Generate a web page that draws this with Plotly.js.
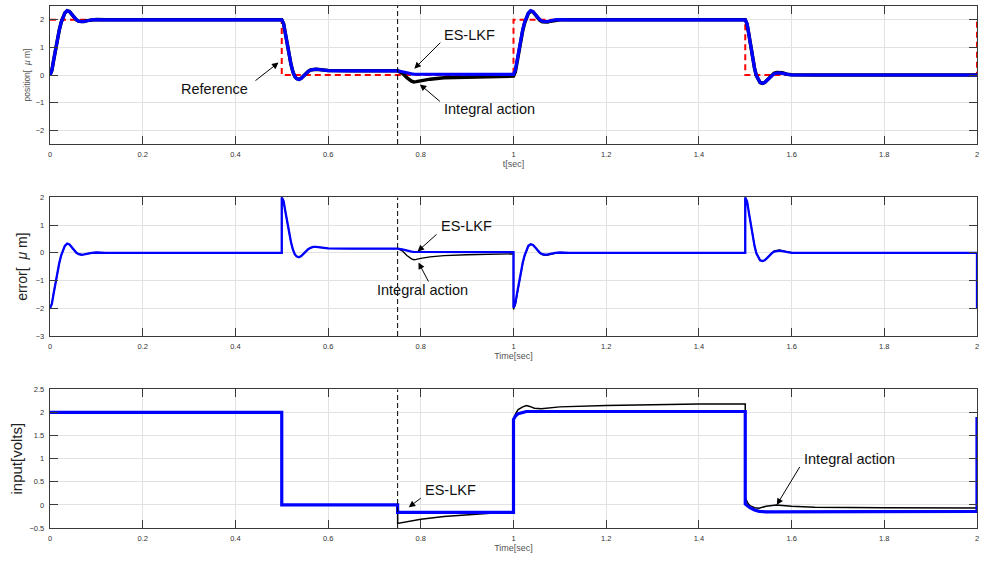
<!DOCTYPE html>
<html><head><meta charset="utf-8">
<script src="https://cdn.plot.ly/plotly-3.0.1.min.js"></script>
<style>html,body{margin:0;padding:0;background:#fff}#chart{width:981px;height:561px}</style>
</head><body><div id="chart"></div>
<script>
// ---------- DATA ----------
// shared time grid for position / error responses (s)
const tResp = [
 0,0.004,0.008,0.012,0.016,0.02,0.024,0.028,0.032,0.037,0.042,0.047,0.052,0.057,0.062,0.068,0.074,0.08,0.09,0.1,0.12,0.3,0.5,
 0.5,0.504,0.508,0.512,0.516,0.52,0.524,0.528,0.532,0.537,0.542,0.547,0.552,0.557,0.562,0.568,0.574,0.58,0.59,0.6,0.65,0.75,
 0.76,0.77,0.78,0.785,0.79,0.8,0.82,0.85,0.9,0.95,1.0,
 1.0,1.004,1.008,1.012,1.016,1.02,1.024,1.028,1.032,1.037,1.042,1.047,1.052,1.057,1.062,1.068,1.074,1.08,1.09,1.1,1.12,1.3,1.5,
 1.5,1.504,1.508,1.512,1.516,1.52,1.524,1.528,1.532,1.537,1.542,1.547,1.552,1.557,1.562,1.568,1.574,1.58,1.59,1.6,1.65,1.8,2.0,
 2.0];

// reference position (red dashed)
const refTime = [0,0.5,0.5,1,1,1.5,1.5,2,2];
const refPos  = [2,2,0,0,2,2,0,0,2];

// position, ES-LKF (blue)
const posLKF = [
 0,0.16,0.55,0.95,1.32,1.63,1.9,2.1,2.25,2.33,2.3,2.2,2.09,2.0,1.95,1.93,1.94,1.97,2.0,2.01,2.0,2.0,2.0,
 2.0,1.86,1.47,1.07,0.7,0.38,0.12,-0.05,-0.13,-0.16,-0.12,-0.03,0.06,0.13,0.18,0.21,0.21,0.2,0.17,0.16,0.15,0.15,
 0.12,0.07,0.04,0.03,0.03,0.03,0.02,0.02,0.02,0.02,0.02,
 0.02,0.18,0.57,0.97,1.34,1.65,1.91,2.11,2.25,2.33,2.3,2.2,2.09,2.0,1.95,1.93,1.94,1.97,2.0,2.01,2.0,2.0,2.0,
 2.0,1.85,1.43,1.0,0.6,0.25,-0.02,-0.18,-0.27,-0.3,-0.27,-0.19,-0.1,-0.02,0.04,0.07,0.08,0.06,0.02,0.0,0.0,0.0,0.0,
 0.0];

// position, integral action (black)
const posInt = [
 0,0.16,0.55,0.95,1.32,1.63,1.9,2.1,2.25,2.33,2.3,2.2,2.09,2.0,1.95,1.93,1.94,1.97,2.0,2.01,2.0,2.0,2.0,
 2.0,1.86,1.47,1.07,0.7,0.38,0.12,-0.05,-0.13,-0.16,-0.12,-0.03,0.06,0.13,0.18,0.21,0.21,0.2,0.17,0.16,0.15,0.15,
 0.07,-0.1,-0.22,-0.25,-0.24,-0.2,-0.15,-0.1,-0.07,-0.05,-0.04,
 -0.04,0.12,0.52,0.93,1.3,1.62,1.88,2.09,2.23,2.31,2.29,2.19,2.07,1.98,1.93,1.91,1.92,1.95,1.98,2.0,2.0,2.0,2.0,
 2.0,1.85,1.43,1.0,0.6,0.25,-0.02,-0.18,-0.27,-0.3,-0.27,-0.19,-0.1,-0.01,0.06,0.09,0.1,0.08,0.03,0.01,0.0,0.0,0.0,
 0.0];

// error, ES-LKF (blue)
const errLKF = [
 -2,-1.84,-1.45,-1.05,-0.68,-0.37,-0.1,0.1,0.25,0.33,0.3,0.2,0.09,0.0,-0.05,-0.07,-0.06,-0.03,0.0,0.01,0.0,0.0,0.0,
 2.0,1.86,1.47,1.07,0.7,0.38,0.12,-0.05,-0.13,-0.16,-0.12,-0.03,0.06,0.13,0.18,0.21,0.21,0.2,0.17,0.16,0.15,0.15,
 0.12,0.07,0.04,0.03,0.03,0.03,0.02,0.02,0.02,0.02,0.02,
 -1.98,-1.82,-1.43,-1.03,-0.66,-0.35,-0.09,0.11,0.25,0.31,0.28,0.19,0.08,0.0,-0.05,-0.07,-0.06,-0.03,0.0,0.01,0.0,0.0,0.0,
 2.0,1.85,1.43,1.0,0.6,0.25,-0.02,-0.18,-0.27,-0.3,-0.27,-0.19,-0.1,-0.02,0.04,0.07,0.08,0.06,0.02,0.0,0.0,0.0,0.0,
 -2.0];

// error, integral action (black)
const errInt = [
 -2,-1.84,-1.45,-1.05,-0.68,-0.37,-0.1,0.1,0.25,0.33,0.3,0.2,0.09,0.0,-0.05,-0.07,-0.06,-0.03,0.0,0.01,0.0,0.0,0.0,
 2.0,1.86,1.47,1.07,0.7,0.38,0.12,-0.05,-0.13,-0.16,-0.12,-0.03,0.06,0.13,0.18,0.21,0.21,0.2,0.17,0.16,0.15,0.15,
 0.07,-0.1,-0.22,-0.25,-0.24,-0.2,-0.15,-0.1,-0.07,-0.05,-0.04,
 -2.04,-1.88,-1.48,-1.07,-0.7,-0.38,-0.12,0.09,0.23,0.31,0.29,0.19,0.07,-0.02,-0.07,-0.09,-0.08,-0.05,-0.02,0.0,0.0,0.0,0.0,
 2.0,1.85,1.43,1.0,0.6,0.25,-0.02,-0.18,-0.27,-0.3,-0.27,-0.19,-0.1,-0.01,0.06,0.09,0.1,0.08,0.03,0.01,0.0,0.0,0.0,
 -2.0];

// control input (V)
const tInput = [0,0.5,0.5,0.75,0.75,0.76,0.77,0.78,0.8,0.85,0.9,0.95,1.0,
 1.0,1.005,1.01,1.02,1.028,1.035,1.045,1.06,1.08,1.1,1.2,1.3,1.4,1.5,
 1.5,1.505,1.51,1.52,1.53,1.545,1.567,1.6,1.65,1.8,2.0,
 2.0];
const inLKF = [2,2,0,0,-0.16,-0.16,-0.16,-0.16,-0.16,-0.16,-0.16,-0.16,-0.16,
 1.85,1.93,1.97,2.0,2.02,2.02,2.02,2.02,2.02,2.02,2.02,2.02,2.02,2.02,
 0.02,-0.02,-0.06,-0.11,-0.14,-0.15,-0.15,-0.14,-0.14,-0.14,-0.14,
 1.9];
const inInt = [2,2,0,0,-0.4,-0.38,-0.36,-0.34,-0.31,-0.25,-0.21,-0.18,-0.17,
 1.85,1.98,2.06,2.12,2.15,2.13,2.09,2.08,2.1,2.12,2.15,2.17,2.18,2.18,
 0.15,0.05,-0.02,-0.06,-0.07,-0.03,0.0,-0.03,-0.05,-0.06,-0.07,
 1.9];

const switchTime = 0.75;   // instant of the dashed vertical marker
const posRange = [-2.5, 2.5];
const errRange = [-3, 2];
const inRange  = [-0.5, 2.5];

// ---------- STYLE ----------
const FONT = 'Liberation Sans, Arial, Helvetica, sans-serif';
const BLUE = '#0000ff';
const AX = '#3a3a3a';
const NB = '\u00a0';

function xax(anchor, title, tcolor){
  return {anchor, range:[0,2], dtick:0.2, tick0:0, showline:true, linecolor:AX, linewidth:1.3,
    mirror:'ticks', ticks:'inside', ticklen:8, tickcolor:AX, tickwidth:1,
    showgrid:true, gridcolor:'#e2e2e2', gridwidth:1, zeroline:false,
    tickfont:{family:FONT,size:7.5,color:'#333'}, ticklabelstandoff:3,
    title:{text:title, font:{family:FONT,size:9,color:tcolor}, standoff:2}};
}
function yax(domain, range, dtick, title, tsize, tcolor, standoff){
  return {domain, range, dtick, showline:true, linecolor:AX, linewidth:1.3,
    mirror:'ticks', ticks:'inside', ticklen:8, tickcolor:AX, tickwidth:1,
    showgrid:true, gridcolor:'#e2e2e2', gridwidth:1, zeroline:false,
    tickfont:{family:FONT,size:7.5,color:'#333'}, ticklabelstandoff:3,
    title:{text:title, font:{family:FONT,size:tsize,color:tcolor}, standoff}};
}

const traces = [
  {x:refTime, y:refPos, xaxis:'x', yaxis:'y', mode:'lines', line:{color:'#ff0000', width:2, dash:'6px,4px'}},
  {x:tResp, y:posInt, xaxis:'x', yaxis:'y', mode:'lines', line:{color:'#000', width:3.5}},
  {x:tResp, y:posLKF, xaxis:'x', yaxis:'y', mode:'lines', line:{color:BLUE, width:3.2}},
  {x:[switchTime,switchTime], y:posRange, xaxis:'x', yaxis:'y', mode:'lines', line:{color:'#000', width:1, dash:'5px,3px'}},

  {x:tResp, y:errInt, xaxis:'x2', yaxis:'y2', mode:'lines', line:{color:'#000', width:1.3}},
  {x:tResp, y:errLKF, xaxis:'x2', yaxis:'y2', mode:'lines', line:{color:BLUE, width:2.3}},
  {x:[switchTime,switchTime], y:errRange, xaxis:'x2', yaxis:'y2', mode:'lines', line:{color:'#000', width:1, dash:'5px,3px'}},

  {x:tInput, y:inInt, xaxis:'x3', yaxis:'y3', mode:'lines', line:{color:'#000', width:1.5}},
  {x:tInput, y:inLKF, xaxis:'x3', yaxis:'y3', mode:'lines', line:{color:BLUE, width:3.2}},
  {x:[switchTime,switchTime], y:inRange, xaxis:'x3', yaxis:'y3', mode:'lines', line:{color:'#000', width:1, dash:'5px,3px'}}
];

// text-arrow: (x,y) = arrow head in data units, (ax,ay) = tail offset in px, text box anchored at tail
function textArrow(xref, yref, x, y, ax, ay, text, xanchor, yanchor){
  return {xref, yref, x, y, ax, ay, text, xanchor, yanchor, showarrow:true,
    borderpad:0, borderwidth:0, standoff:0, startstandoff:0,
    arrowhead:2, arrowsize:1.3, arrowwidth:1, arrowcolor:'#000',
    font:{family:FONT, size:14.5, color:'#111'}};
}

const annotations = [
  textArrow('x','y',0.493,0.45,-23,18,'Reference'+NB+NB,'right','top'),
  textArrow('x','y',0.786,0.23,26,-26,NB+'ES-LKF','left','bottom'),
  textArrow('x','y',0.798,-0.34,20,17,NB+'Integral action','left','top'),
  textArrow('x2','y2',0.793,0.05,19,-17,NB+'ES-LKF','left','bottom'),
  textArrow('x2','y2',0.795,-0.35,10,19,'Integral action'+NB+NB+NB,'center','top'),
  textArrow('x3','y3',0.774,-0.05,12,-9,NB+'ES-LKF','left','bottom'),
  textArrow('x3','y3',1.568,0.0,23,-38,NB+'Integral action','left','bottom')
];

const layout = {
  width:981, height:561, margin:{l:50, r:4, t:6, b:33},
  paper_bgcolor:'#fff', plot_bgcolor:'#fff', showlegend:false,
  font:{family:FONT},
  xaxis: xax('y','t[sec]','#555'),
  yaxis: yax([0.7356,1], posRange, 1, 'position['+NB+NB+'<i>μ</i> m]', 8.5, '#555', 3),
  xaxis2: xax('y2','Time[sec]','#555'),
  yaxis2: yax([0.3678,0.6335], errRange, 1, 'error['+NB+NB+'<i>μ</i> m]', 14, '#222', 4),
  xaxis3: xax('y3','Time[sec]','#555'),
  yaxis3: yax([0,0.2657], inRange, 0.5, 'input[volts]', 15, '#222', 3),
  annotations
};

Plotly.newPlot('chart', traces, layout, {displayModeBar:false, staticPlot:true});
</script>
</body></html>
